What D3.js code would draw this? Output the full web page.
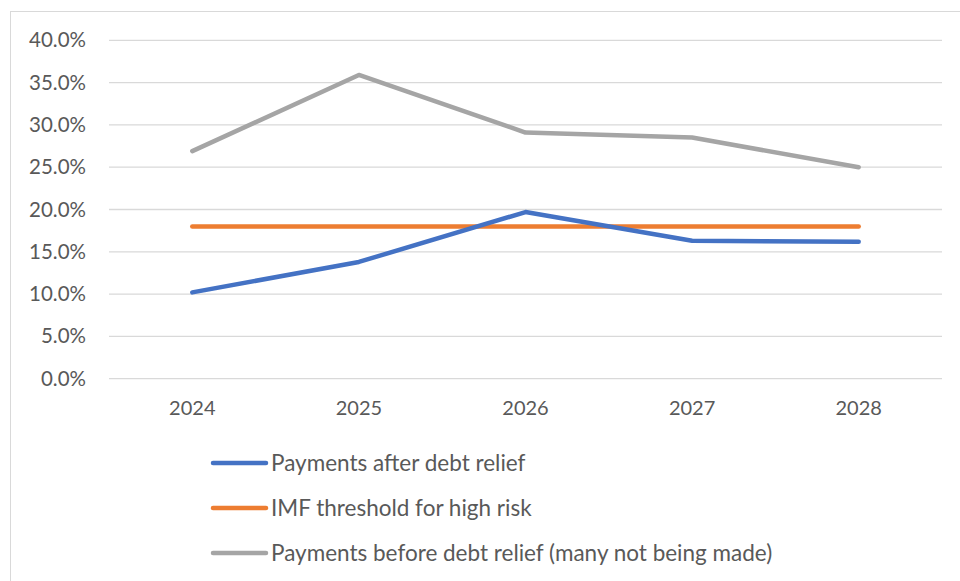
<!DOCTYPE html>
<html><head><meta charset="utf-8">
<script src="https://cdn.jsdelivr.net/npm/d3@7"></script>
<style>body{margin:0;background:#fff;} svg{display:block;}</style>
</head><body>
<svg id="c" width="960" height="581"></svg>
<script>
const years = ["2024","2025","2026","2027","2028"];
const afterRelief = [10.2, 13.8, 19.7, 16.3, 16.2];
const imfThreshold = [18.0, 18.0, 18.0, 18.0, 18.0];
const beforeRelief = [26.9, 35.9, 29.1, 28.5, 25.0];
const yTicks = [0,5,10,15,20,25,30,35,40];
const seriesNames = ["Payments after debt relief","IMF threshold for high risk","Payments before debt relief (many not being made)"];
const seriesColors = ["#4472C4","#ED7D31","#A5A5A5"];

const svg = d3.select("#c");
const font = "Lato, 'Open Sans', sans-serif";
svg.append("rect").attr("x",10.5).attr("y",11.5).attr("width",960).attr("height",600)
  .attr("fill","#fff").attr("stroke","#d9d9d9").attr("stroke-width",1);

const pLeft=109, pRight=942, pTop=40.3, pBottom=378.7;
const x = d3.scaleBand().domain(years).range([pLeft,pRight]);
const y = d3.scaleLinear().domain([0,40]).range([pBottom,pTop]);

const grid = svg.append("g");
grid.selectAll("line").data(yTicks).join("line")
  .attr("x1",pLeft).attr("x2",pRight).attr("y1",d=>y(d)).attr("y2",d=>y(d))
  .attr("stroke","#d9d9d9").attr("stroke-width",1.3);

const yAxis = svg.append("g").attr("transform",`translate(${pLeft},0)`)
  .call(d3.axisLeft(y).tickValues(yTicks).tickFormat(d=>d.toFixed(1)+"%").tickSize(0).tickPadding(23));
yAxis.select(".domain").remove();
yAxis.selectAll("text").attr("font-family",font).attr("font-size",20.5).attr("fill","#595959");

const xAxis = svg.append("g").attr("transform",`translate(0,${pBottom})`)
  .call(d3.axisBottom(x).tickSize(0).tickPadding(22));
xAxis.select(".domain").remove();
xAxis.selectAll("text").attr("font-family",font).attr("font-size",20).attr("fill","#595959");

const series = [afterRelief, imfThreshold, beforeRelief];
const line = d3.line().x((d,i)=>x(years[i])+x.bandwidth()/2).y(d=>y(d));
const order = [2,1,0];
order.forEach(k=>{
  svg.append("path").datum(series[k]).attr("d",line)
    .attr("fill","none").attr("stroke",seriesColors[k]).attr("stroke-width",4.5)
    .attr("stroke-linejoin","round").attr("stroke-linecap","round");
});

const lg = svg.append("g");
seriesNames.forEach((n,i)=>{
  const yy = 463 + i*45;
  lg.append("line").attr("x1",213).attr("x2",266).attr("y1",yy).attr("y2",yy)
    .attr("stroke",seriesColors[i]).attr("stroke-width",4.5).attr("stroke-linecap","round");
  lg.append("text").attr("x",271).attr("y",yy).attr("dy","0.35em")
    .attr("font-family",font).attr("font-size",22.5).attr("fill","#595959").text(n);
});
</script>
</body></html>
